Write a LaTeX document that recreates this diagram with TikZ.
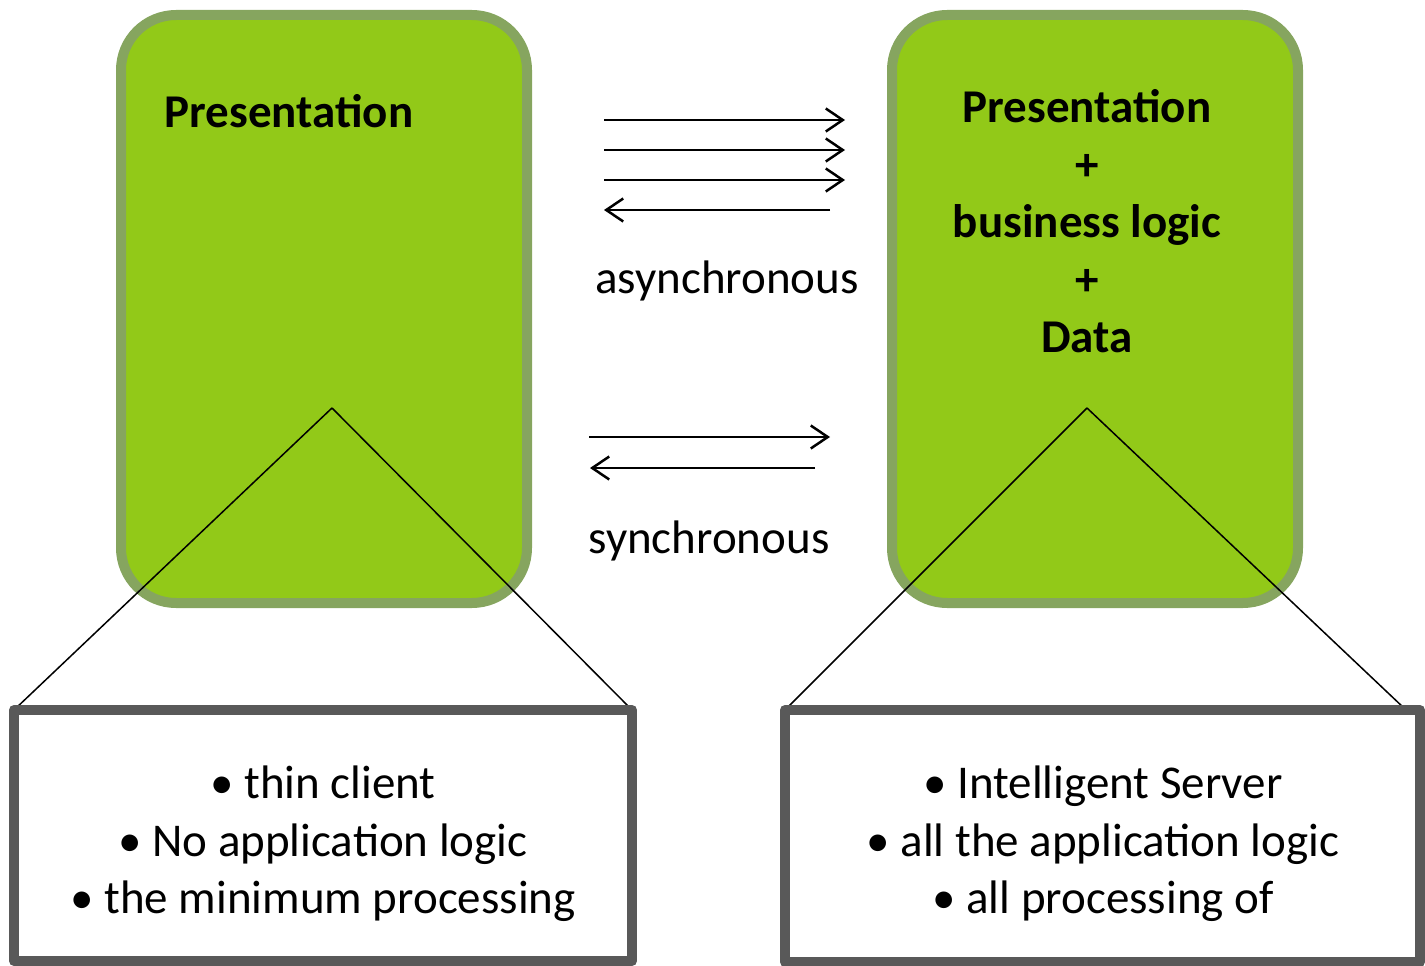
\documentclass[tikz,border=0pt]{standalone}
\usepackage{fontspec}
\setmainfont{Carlito}
\usetikzlibrary{arrows.meta}
\definecolor{greenfill}{RGB}{146,201,24}
\definecolor{greenborder}{RGB}{134,165,95}
\definecolor{grayborder}{RGB}{89,89,89}
\tikzset{
  greenbox/.style={draw=greenborder, fill=greenfill, line width=10pt, rounded corners=55pt,
    inner sep=0pt, outer sep=0pt, minimum width=406pt, minimum height=588pt},
  graybox/.style={draw=grayborder, fill=white, line width=10pt, line join=round,
    inner sep=0pt, outer sep=0pt},
  bigtxt/.style={font=\fontsize{47}{57.6}\selectfont, inner sep=0pt, anchor=base},
  boldtxt/.style={bigtxt, font=\fontsize{47}{57.6}\selectfont\bfseries},
  flow/.style={line width=2.5pt, -{Straight Barb[length=17pt, width=23pt, line width=2.5pt]}},
  zoomline/.style={line width=1.5pt}
}
\begin{document}
\begin{tikzpicture}[x=1pt, y=-1pt]
\useasboundingbox (0,0) rectangle (1425,966);
% green boxes
\node[greenbox] (client) at (324,309) {};
\node[greenbox] (server) at (1095,309) {};
% apex coordinates
\coordinate (capex) at (332,408);
\coordinate (sapex) at (1087,408);
\coordinate (sright) at (1405,709);
% zoom lines
\draw[zoomline] (capex) -- (14,710) coordinate (clnw);
\draw[zoomline] (capex) -- (632,710) coordinate (clne);
\draw[zoomline] (sapex) -- (785,710) coordinate (svnw);
\draw[zoomline] (sapex) -- (sright);
% gray boxes
\node[graybox, minimum width=618pt, minimum height=251pt] (cdesc) at (323,835.5) {};
\node[graybox, minimum width=635pt, minimum height=252pt] (sdesc) at (1102.5,836) {};
% texts in green boxes
\node[boldtxt] (ctitle) at (289,128) {Presentation};
\node[boldtxt] (st1) at (1087,122) {Presentation};
\node[boldtxt] (st2) at (1087,180) {+};
\node[boldtxt] (st3) at (1087,237) {business logic};
\node[boldtxt] (st4) at (1087,295) {+};
\node[boldtxt] (st5) at (1087,352) {Data};
% arrows
\coordinate (a1s) at (604,120); \coordinate (a1e) at (845,120);
\coordinate (a2s) at (604,150); \coordinate (a2e) at (845,150);
\coordinate (a3s) at (604,180); \coordinate (a3e) at (845,180);
\coordinate (a4s) at (830,210); \coordinate (a4e) at (604,210);
\draw[flow] (a1s) -- (a1e);
\draw[flow] (a2s) -- (a2e);
\draw[flow] (a3s) -- (a3e);
\draw[flow] (a4s) -- (a4e);
\node[bigtxt] (async) at (727,293) {asynchronous};
\coordinate (b1s) at (589,437); \coordinate (b1e) at (830,437);
\coordinate (b2s) at (815,468); \coordinate (b2e) at (590,468);
\draw[flow] (b1s) -- (b1e);
\draw[flow] (b2s) -- (b2e);
\node[bigtxt] (sync) at (709,553) {synchronous};
% description texts
\node[bigtxt] (c1) at (323,798) {• thin client};
\node[bigtxt] (c2) at (323,856) {• No application logic};
\node[bigtxt] (c3) at (323,913) {• the minimum processing};
\node[bigtxt] (s1) at (1103,798) {• Intelligent Server};
\node[bigtxt] (s2) at (1103,856) {• all the application logic};
\node[bigtxt] (s3) at (1103,913) {• all processing of};
\end{tikzpicture}
\end{document}
